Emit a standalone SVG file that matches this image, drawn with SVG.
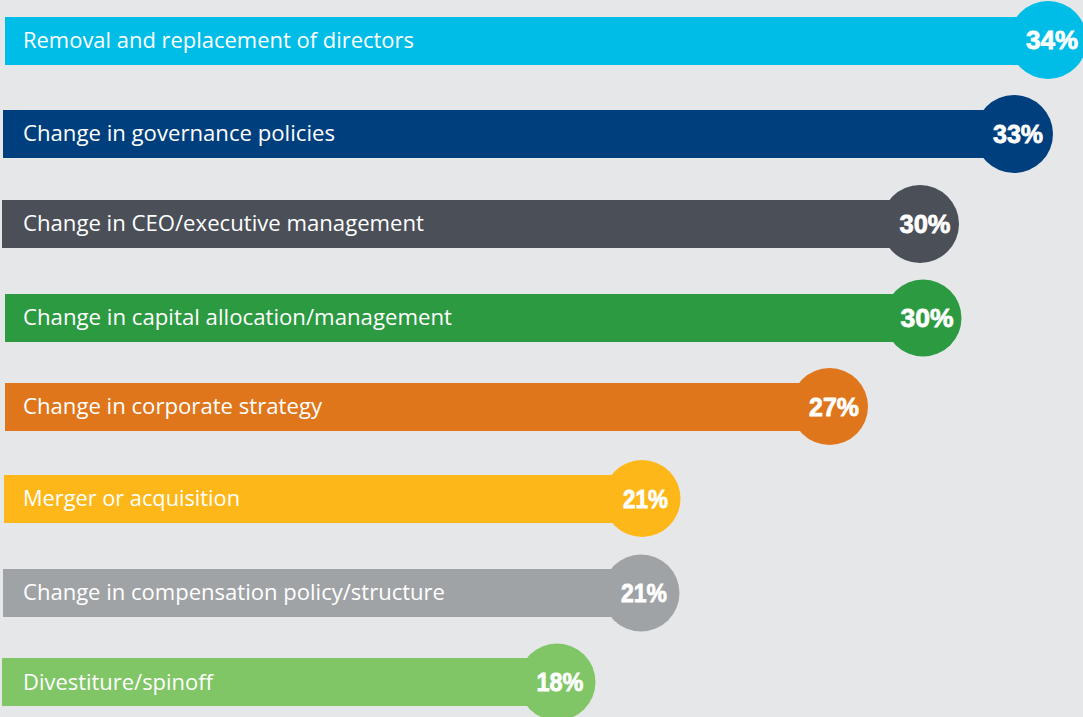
<svg xmlns="http://www.w3.org/2000/svg" width="1083" height="717" viewBox="0 0 1083 717">
<style>
.lbl{font-family:"Open Sans","Liberation Sans",Arial,sans-serif;font-size:21px;fill:#ffffff}
.pct{font-family:"Liberation Sans",Arial,sans-serif;font-size:26px;font-weight:bold;fill:#ffffff;stroke:#ffffff;stroke-width:0.8;text-anchor:middle}
</style>
<rect x="0" y="0" width="1083" height="717" fill="#e6e7e9"/>
<g id="bar1" fill="#00bde8">
<rect x="5" y="17" width="1043" height="48"/>
<circle cx="1048" cy="40" r="39"/>
<text class="lbl" x="23" y="48" textLength="391" lengthAdjust="spacingAndGlyphs">Removal and replacement of directors</text>
<text class="pct" x="1052" y="49" textLength="52" lengthAdjust="spacingAndGlyphs">34%</text>
</g>
<g id="bar2" fill="#003f7d">
<rect x="3" y="110" width="1011" height="48"/>
<circle cx="1014" cy="134" r="39"/>
<text class="lbl" x="23" y="141" textLength="312" lengthAdjust="spacingAndGlyphs">Change in governance policies</text>
<text class="pct" x="1018" y="143" textLength="50" lengthAdjust="spacingAndGlyphs">33%</text>
</g>
<g id="bar3" fill="#4b4f58">
<rect x="2" y="200" width="918" height="48"/>
<circle cx="920" cy="224" r="39"/>
<text class="lbl" x="23" y="231" textLength="401" lengthAdjust="spacingAndGlyphs">Change in CEO/executive management</text>
<text class="pct" x="925" y="233" textLength="51" lengthAdjust="spacingAndGlyphs">30%</text>
</g>
<g id="bar4" fill="#2c9a41">
<rect x="5" y="294" width="918" height="48"/>
<circle cx="923" cy="318" r="38.5"/>
<text class="lbl" x="23" y="325" textLength="429" lengthAdjust="spacingAndGlyphs">Change in capital allocation/management</text>
<text class="pct" x="927" y="327" textLength="53" lengthAdjust="spacingAndGlyphs">30%</text>
</g>
<g id="bar5" fill="#e0761c">
<rect x="5" y="383" width="825" height="48"/>
<circle cx="829.5" cy="406.5" r="38.5"/>
<text class="lbl" x="23" y="414" textLength="299" lengthAdjust="spacingAndGlyphs">Change in corporate strategy</text>
<text class="pct" x="834" y="416" textLength="50" lengthAdjust="spacingAndGlyphs">27%</text>
</g>
<g id="bar6" fill="#fdb718">
<rect x="4" y="475" width="638" height="48"/>
<circle cx="642" cy="498.5" r="38.5"/>
<text class="lbl" x="23" y="506" textLength="217" lengthAdjust="spacingAndGlyphs">Merger or acquisition</text>
<text class="pct" x="645.5" y="508" textLength="45" lengthAdjust="spacingAndGlyphs">21%</text>
</g>
<g id="bar7" fill="#a0a3a6">
<rect x="3" y="569" width="638" height="48"/>
<circle cx="641" cy="593" r="38.5"/>
<text class="lbl" x="23" y="600" textLength="422" lengthAdjust="spacingAndGlyphs">Change in compensation policy/structure</text>
<text class="pct" x="644" y="602" textLength="46" lengthAdjust="spacingAndGlyphs">21%</text>
</g>
<g id="bar8" fill="#80c566">
<rect x="2" y="658" width="555" height="48"/>
<circle cx="557" cy="682" r="38.5"/>
<text class="lbl" x="23" y="690" textLength="190" lengthAdjust="spacingAndGlyphs">Divestiture/spinoff</text>
<text class="pct" x="560" y="691" textLength="47" lengthAdjust="spacingAndGlyphs">18%</text>
</g>
<g id="connectors"></g>
</svg>
